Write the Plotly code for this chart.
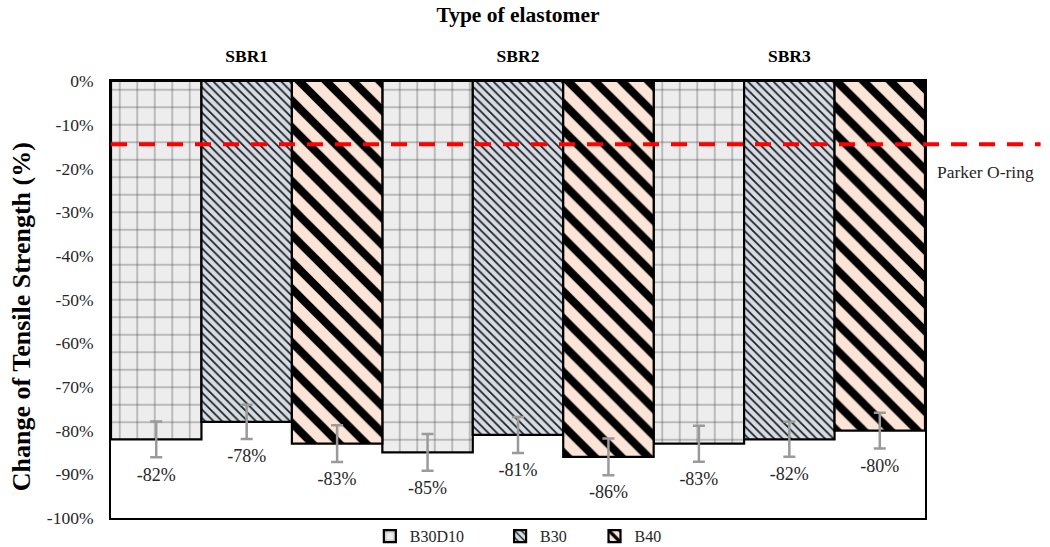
import plotly.graph_objects as go

# Elastomer groups and filler series
groups = ["SBR1", "SBR2", "SBR3"]
series = ["B30D10", "B30", "B40"]

# Change of tensile strength (%) per series, one value per elastomer group
b30d10_values = [-82, -85, -83]
b30_values = [-78, -81, -82]
b40_values = [-83, -86, -80]

# Error bar half-widths (%)
b30d10_err = [4.1, 4.2, 4.1]
b30_err = [3.9, 4.1, 4.0]
b40_err = [4.2, 4.2, 4.1]

# Reference limit line
PARKER_LIMIT = -14.5
PARKER_LABEL = "Parker O-ring"

# Y tick labels
y_tickvals = [0, -10, -20, -30, -40, -50, -60, -70, -80, -90, -100]
y_ticktext = ["0%", "-10%", "-20%", "-30%", "-40%", "-50%",
              "-60%", "-70%", "-80%", "-90%", "-100%"]

FONT = "Liberation Serif"
TEXT_COLOR = "#262626"

values = [b30d10_values, b30_values, b40_values]
errors = [b30d10_err, b30_err, b40_err]

styles = [
    dict(shape="+", bgcolor="#ededed", fgcolor="#2e2e2e", size=17.5, solidity=0.06),
    dict(shape="\\", bgcolor="#d6dce5", fgcolor="#1a1a1a", size=6, solidity=0.28),
    dict(shape="\\", bgcolor="#fce4d6", fgcolor="#000000", size=19, solidity=0.42),
]

# one legend box per series, laid out along the bottom
legend_ids = ["legend", "legend2", "legend3"]
legend_x = [0.318, 0.478, 0.594]

width = 1.0 / 3
offsets = [-width, 0.0, width]

fig = go.Figure()

for name, vals, errs, style, off, lid in zip(series, values, errors, styles, offsets, legend_ids):
    xs = [i + off for i in range(len(groups))]
    fig.add_trace(go.Bar(
        x=xs,
        y=vals,
        width=width,
        name=name,
        legend=lid,
        marker=dict(
            color=style["bgcolor"],
            line=dict(color="#000000", width=2.2),
            pattern=dict(
                shape=style["shape"],
                bgcolor=style["bgcolor"],
                fgcolor=style["fgcolor"],
                size=style["size"],
                solidity=style["solidity"],
                fillmode="replace",
            ),
        ),
        error_y=dict(
            type="data",
            array=errs,
            visible=True,
            color="#9a9a9a",
            thickness=2.5,
            width=6,
        ),
    ))

# Value labels placed just below each error bar
for name, vals, errs, off in zip(series, values, errors, offsets):
    xs = [i + off for i in range(len(groups))]
    fig.add_trace(go.Scatter(
        x=xs,
        y=[v - e for v, e in zip(vals, errs)],
        mode="markers+text",
        marker=dict(size=14, opacity=0),
        text=[f"{v}%" for v in vals],
        textposition="bottom center",
        textfont=dict(family=FONT, size=18, color=TEXT_COLOR),
        showlegend=False,
        hoverinfo="skip",
        cliponaxis=False,
    ))

# Parker O-ring reference line, running past the right edge of the plot
fig.add_shape(
    type="line",
    xref="paper", yref="y",
    x0=0, x1=1.142,
    y0=PARKER_LIMIT, y1=PARKER_LIMIT,
    line=dict(color="#ff0000", width=4, dash="16px,12px"),
    layer="above",
)
fig.add_annotation(
    xref="paper", yref="y",
    x=1.012, y=PARKER_LIMIT,
    yshift=-28,
    text=PARKER_LABEL,
    showarrow=False,
    xanchor="left",
    font=dict(family=FONT, size=17.5, color=TEXT_COLOR),
)

# Vertical axis title
fig.add_annotation(
    xref="paper", yref="paper",
    x=-0.109, y=0.46,
    xanchor="center", yanchor="middle",
    text="<b>Change of Tensile Strength (%)</b>",
    textangle=-90,
    showarrow=False,
    font=dict(family=FONT, size=26, color="#000000"),
)

legend_style = dict(
    orientation="h",
    xref="paper", xanchor="left",
    yref="paper", y=-0.003, yanchor="top",
    font=dict(family=FONT, size=16, color=TEXT_COLOR),
    itemwidth=30,
    bgcolor="rgba(0,0,0,0)",
)

fig.update_layout(
    width=1050,
    height=547,
    margin=dict(l=111, r=125, t=81, b=29, autoexpand=False),
    paper_bgcolor="white",
    plot_bgcolor="white",
    barmode="overlay",
    font=dict(family=FONT, color=TEXT_COLOR),
    showlegend=True,
    legend=dict(legend_style, x=legend_x[0]),
    legend2=dict(legend_style, x=legend_x[1]),
    legend3=dict(legend_style, x=legend_x[2]),
    xaxis=dict(
        range=[-0.5, len(groups) - 0.5],
        tickvals=list(range(len(groups))),
        ticktext=groups,
        side="top",
        showgrid=False,
        zeroline=False,
        showline=True,
        mirror=True,
        linecolor="#000000",
        linewidth=2,
        ticks="",
        ticklabelstandoff=10,
        tickfont=dict(family=FONT, size=17.5, color="#000000", weight="bold"),
        title=dict(
            text="<b>Type of elastomer</b>",
            font=dict(family=FONT, size=21.5, color="#000000"),
            standoff=17,
        ),
        fixedrange=True,
    ),
    yaxis=dict(
        range=[-100, 0],
        tickvals=y_tickvals,
        ticktext=y_ticktext,
        showgrid=False,
        zeroline=False,
        showline=True,
        mirror=True,
        linecolor="#000000",
        linewidth=2,
        ticks="",
        ticklabelstandoff=12,
        tickfont=dict(family=FONT, size=17.5, color=TEXT_COLOR),
        fixedrange=True,
    ),
)

fig.write_html("out.html")
